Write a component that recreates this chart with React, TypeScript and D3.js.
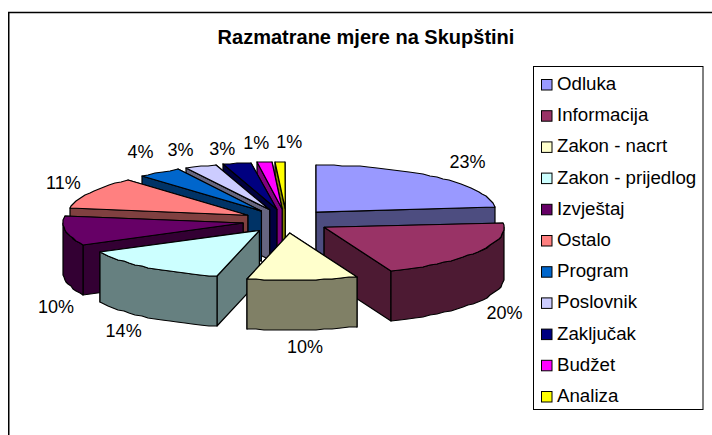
import React from "react";
import * as d3 from "d3";

const categories = ["Odluka", "Informacija", "Zakon - nacrt", "Zakon - prijedlog", "Izvještaj", "Ostalo", "Program", "Poslovnik", "Zaključak", "Budžet", "Analiza"];
const values = [23.45, 20.45, 9.9, 13.55, 10.05, 11, 3.9, 2.9, 2.55, 1.35, 0.9];
const topColors = ["#9999FF", "#993366", "#FFFFCC", "#CCFFFF", "#660066", "#FF8080", "#0066CC", "#CCCCFF", "#000080", "#FF00FF", "#FFFF00"];
const title = "Razmatrane mjere na Skupštini";

const W = 712, H = 435;
const CX = 286.5, CY = 221, RX = 180, RY = 47, DEPTH = 50, EXPLODE = 44, SQUASH = 0.275;
const LABEL_RX = 212, LABEL_RY = 67;
const FONT = "'Liberation Sans', Arial, sans-serif";
// Small hand adjustments of the data labels around their computed ring position.
const labelNudgeX = [9, -1, 0, -5, 22, 2, 0, -8, -8, -5, 10];
const labelNudgeY = [-1, 0, -3, -3, 23, -1, -4, 2, 5, 0, 0];

const darken = (c: string) => {
  const r = d3.rgb(c);
  return d3.rgb(r.r / 2, r.g / 2, r.b / 2).formatHex();
};

export default function App() {
  const arcs = d3.pie<number>().sort(null).startAngle(0).endAngle(2 * Math.PI)(values);
  const total = d3.sum(values);

  const slices = arcs.map((a, i) => {
    const mid = (a.startAngle + a.endAngle) / 2;
    const ax = CX + EXPLODE * Math.sin(mid);
    const ay = CY - EXPLODE * SQUASH * Math.cos(mid);
    const pt = (t: number, dz = 0): [number, number] => [
      Math.round(ax + RX * Math.sin(t)),
      Math.round(ay - RY * Math.cos(t) + dz),
    ];
    return { a, i, mid, ax, ay, pt };
  });
  const order = [...slices].sort((p, q) => Math.cos(q.mid) - Math.cos(p.mid));
  const line = d3.line();
  const arcPts = (pt: (t: number, dz?: number) => [number, number], t0: number, t1: number, dz = 0) => {
    const n = Math.max(2, Math.ceil(Math.abs(t1 - t0) / 0.05));
    return d3.range(n + 1).map((k) => pt(t0 + ((t1 - t0) * k) / n, dz));
  };

  return (
    <svg width={W} height={H} style={{ position: "absolute", left: 0, top: 0, background: "#fff" }} fontFamily={FONT}>
      <rect x={8.75} y={12.5} width={W} height={H} fill="#fff" stroke="#000" strokeWidth={1.5} />
      <text x={366} y={44} textAnchor="middle" fontSize={20} fontWeight="bold" fill="#000">{title}</text>
      {order.map(({ a, i, ax, ay, pt }) => {
        const t0 = a.startAngle, t1 = a.endAngle;
        const side = darken(topColors[i]);
        const wall = (t: number) => {
          const p = pt(t), q = pt(t, DEPTH);
          return line([[ax, ay], p, q, [ax, ay + DEPTH]]) + "Z";
        };
        const walls = [t0, t1].sort((u, v) => {
          const n = (t: number) => (t === t0 ? -Math.cos(t - Math.PI / 2) : -Math.cos(t + Math.PI / 2));
          return n(u) - n(v);
        });
        const f0 = Math.max(t0, Math.PI / 2), f1 = Math.min(t1, (3 * Math.PI) / 2);
        return (
          <g key={i} stroke="#000" strokeWidth={1.2} strokeLinejoin="round">
            {walls.map((t, k) => <path key={k} d={wall(t)} fill={side} />)}
            {f1 > f0 && (
              <path
                d={line([...arcPts(pt, f0, f1), ...arcPts(pt, f1, f0, DEPTH)]) + "Z"}
                fill={side}
              />
            )}
            <path d={line([[ax, ay], ...arcPts(pt, t0, t1)]) + "Z"} fill={topColors[i]} />
          </g>
        );
      })}
      {slices.map(({ a, i, mid, ax, ay }) => {
        const c = Math.cos(mid);
        const x = ax + LABEL_RX * Math.sin(mid) + labelNudgeX[i];
        const y = ay - LABEL_RY * c + (c < 0 ? DEPTH : 0) + labelNudgeY[i];
        return (
          <text key={i} x={x} y={y + 6.5} textAnchor="middle" fontSize={18} fill="#000">
            {Math.round((a.value / total) * 100)}%
          </text>
        );
      })}
      <rect x={533.5} y={66.5} width={169.5} height={343} fill="#fff" stroke="#000" strokeWidth={1} />
      {categories.map((c, i) => {
        const y = 84.5 + i * 31.2;
        return (
          <g key={c}>
            <rect x={541.5} y={y - 5} width={10.5} height={10.5} fill={topColors[i]} stroke="#000" strokeWidth={1} />
            <text x={557} y={y + 5.5} fontSize={18.7} fill="#000">{c}</text>
          </g>
        );
      })}
    </svg>
  );
}
